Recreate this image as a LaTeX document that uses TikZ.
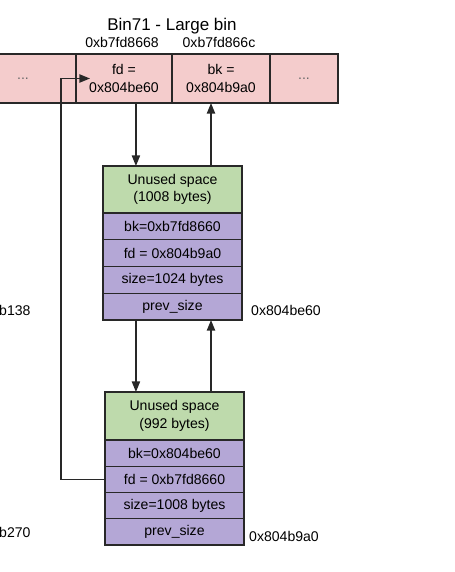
\documentclass[tikz,border=0pt]{standalone}
\usepackage{fontspec}
\setmainfont{Liberation Sans}
\usetikzlibrary{arrows.meta,calc,positioning}
\definecolor{binPink}{RGB}{244,204,204}
\definecolor{chunkGreen}{RGB}{190,218,172}
\definecolor{chunkLilac}{RGB}{180,167,214}
\definecolor{edgeInk}{RGB}{40,40,40}
\tikzset{
  txt/.style={font=\fontsize{12}{15}\selectfont, align=center, inner sep=0pt},
  cell/.style={txt, draw=edgeInk, line width=1.1pt, outer sep=0pt, anchor=north west},
  bincell/.style={cell, fill=binPink, minimum height=49*0.03cm},
  freebox/.style={cell, fill=chunkGreen, minimum width=139*0.03cm},
  fieldbox/.style={cell, fill=chunkLilac, minimum width=139*0.03cm},
  ptr/.style={draw=edgeInk, line width=1.2pt, -{Triangle[length=9pt,width=7pt]}}
}

\begin{document}
\begin{tikzpicture}[x=0.03cm,y=-0.03cm]
  \useasboundingbox (0,0) rectangle (454,572);
  % bin header
  \node[txt, font=\fontsize{14.5}{16}\selectfont] (title) at (172,26) {Bin71 - Large bin};
  \node[txt] (addrfd) at (122,42) {0xb7fd8668};
  \node[txt] (addrbk) at (219,42) {0xb7fd866c};
  \node[bincell, minimum width=106*0.03cm] (lcell) at (-30,54) {\color{edgeInk!70}...};
  \node[bincell, minimum width=96*0.03cm, right=0pt of lcell] (fdcell) {fd =\\0x804be60};
  \node[bincell, minimum width=98*0.03cm, right=0pt of fdcell] (bkcell) {bk =\\0x804b9a0};
  \node[bincell, minimum width=68*0.03cm, right=0pt of bkcell] (rcell) {\color{edgeInk!70}...};
  % first free chunk
  \node[freebox, minimum height=47*0.03cm] (c1u) at (103,166) {Unused space\\(1008 bytes)};
  \node[fieldbox, minimum height=26.75*0.03cm, below=0pt of c1u] (c1bk) {bk=0xb7fd8660};
  \node[fieldbox, minimum height=26.75*0.03cm, below=0pt of c1bk] (c1fd) {fd = 0x804b9a0};
  \node[fieldbox, minimum height=26.75*0.03cm, below=0pt of c1fd] (c1size) {size=1024 bytes};
  \node[fieldbox, minimum height=26.75*0.03cm, below=0pt of c1size] (c1prev) {prev\_size};
  \node[txt, anchor=west] (c1addr) at (251,310) {0x804be60};
  \node[txt, anchor=west] (c1left) at (-1,310) {b138};
  % second free chunk
  \node[freebox, minimum height=48*0.03cm] (c2u) at (105,392) {Unused space\\(992 bytes)};
  \node[fieldbox, minimum height=26.25*0.03cm, below=0pt of c2u] (c2bk) {bk=0x804be60};
  \node[fieldbox, minimum height=26.25*0.03cm, below=0pt of c2bk] (c2fd) {fd = 0xb7fd8660};
  \node[fieldbox, minimum height=26.25*0.03cm, below=0pt of c2fd] (c2size) {size=1008 bytes};
  \node[fieldbox, minimum height=26.25*0.03cm, below=0pt of c2size] (c2prev) {prev\_size};
  \node[txt, anchor=west] (c2addr) at (249,536) {0x804b9a0};
  \node[txt, anchor=west] (c2left) at (-1,532) {b270};
  % links
  \coordinate (down) at ($(c1u.north west)!0.237!(c1u.north east)$);
  \coordinate (up) at ($(c1u.north west)!0.777!(c1u.north east)$);
  \coordinate (loopend) at ($(fdcell.west)+(14,0)$);
  \draw[ptr] (down |- fdcell.south) -- (down);
  \draw[ptr] (up) -- (up |- bkcell.south);
  \draw[ptr] (down |- c1prev.south) -- (down |- c2u.north);
  \draw[ptr] (up |- c2u.north) -- (up |- c1prev.south);
  \draw[ptr] (c2fd.west) -- ++(-44,0) |- (loopend);
\end{tikzpicture}
\end{document}
